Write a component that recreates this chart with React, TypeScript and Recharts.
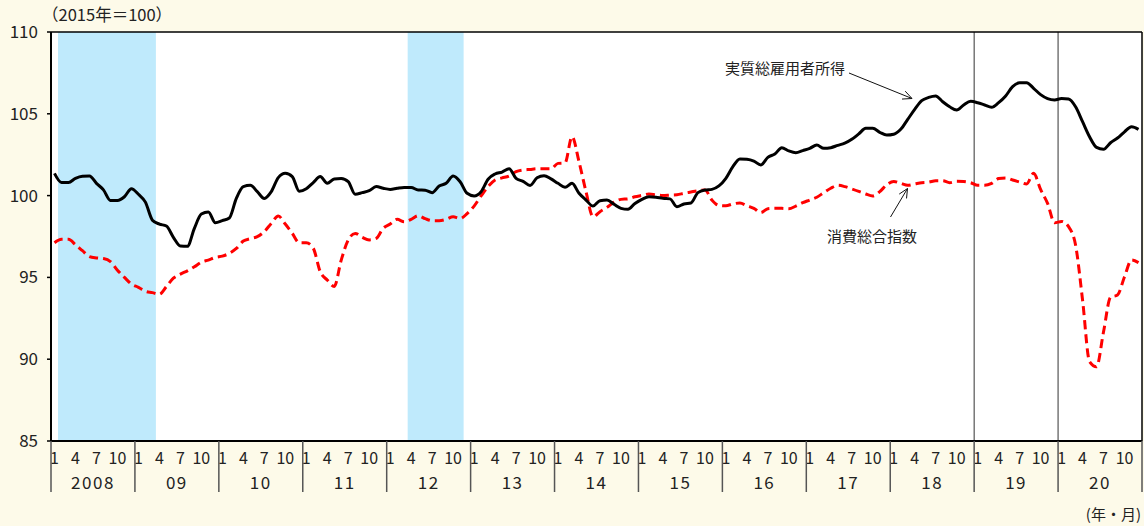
import React from 'react';
import { LineChart, Line, XAxis, YAxis, CartesianGrid, ReferenceArea, ReferenceLine } from 'recharts';

const FONT = '"Noto Sans CJK JP", "Noto Sans", sans-serif';

const YEARS = [2008, 2009, 2010, 2011, 2012, 2013, 2014, 2015, 2016, 2017, 2018, 2019, 2020];
const MONTHS = YEARS.flatMap((y) => Array.from({ length: 12 }, (_, k) => `${y}-${String(k + 1).padStart(2, '0')}`));

// 実質総雇用者所得
const INCOME = [
  101.36, 100.8, 100.8, 101.05, 101.18, 101.2, 100.75, 100.35, 99.7, 99.7, 99.93, 100.42,
  100.08, 99.6, 98.5, 98.26, 98.14, 97.45, 96.92, 96.9, 98.0, 98.87, 99.0, 98.34,
  98.47, 98.63, 99.83, 100.55, 100.63, 100.24, 99.83, 100.24, 101.1, 101.36, 101.16, 100.26,
  100.42, 100.8, 101.16, 100.75, 101.02, 101.05, 100.85, 100.08, 100.18, 100.3, 100.55, 100.45,
  100.38, 100.45, 100.5, 100.5, 100.34, 100.33, 100.18, 100.59, 100.75, 101.2, 100.85, 100.14,
  99.98, 100.24, 101.0, 101.32, 101.44, 101.64, 101.05, 100.87, 100.62, 101.09, 101.22, 101.02,
  100.75, 100.51, 100.75, 100.14, 99.73, 99.36, 99.69, 99.73, 99.47, 99.22, 99.16, 99.52,
  99.77, 99.93, 99.9, 99.83, 99.8, 99.32, 99.49, 99.55, 100.18, 100.34, 100.38, 100.59,
  101.06, 101.77, 102.24, 102.22, 102.11, 101.87, 102.34, 102.54, 102.93, 102.73, 102.62, 102.75,
  102.89, 103.09, 102.89, 102.93, 103.07, 103.2, 103.44, 103.77, 104.11, 104.11, 103.87, 103.7,
  103.75, 104.05, 104.66, 105.27, 105.8, 106.0, 106.09, 105.74, 105.43, 105.23, 105.54, 105.76,
  105.68, 105.54, 105.4, 105.68, 106.09, 106.66, 106.9, 106.9, 106.56, 106.17, 105.93, 105.85,
  105.93, 105.9, 105.43, 104.52, 103.6, 102.95, 102.83, 103.23, 103.52, 103.9, 104.21, 104.05,
];

// 消費総合指数
const CONSUMPTION = [
  97.12, 97.33, 97.33, 97.0, 96.63, 96.27, 96.19, 96.15, 95.97, 95.44, 95.0, 94.59,
  94.39, 94.15, 94.07, 93.97, 94.44, 94.95, 95.2, 95.4, 95.65, 95.93, 96.06, 96.22,
  96.3, 96.47, 96.77, 97.22, 97.37, 97.49, 97.8, 98.3, 98.75, 98.26, 97.69, 97.12,
  97.12, 96.78, 95.35, 94.84, 94.45, 96.06, 97.29, 97.69, 97.45, 97.29, 97.38, 98.0,
  98.26, 98.55, 98.4, 98.55, 98.77, 98.59, 98.47, 98.47, 98.55, 98.7, 98.6, 98.9,
  99.36, 99.98, 100.55, 100.95, 101.08, 101.2, 101.46, 101.56, 101.6, 101.64, 101.64, 101.64,
  101.97, 102.0, 103.6, 102.07, 100.24, 98.71, 99.02, 99.28, 99.6, 99.77, 99.8, 99.93,
  100.01, 100.1, 100.05, 100.01, 100.03, 100.05, 100.14, 100.22, 100.3, 100.34, 99.73, 99.4,
  99.38, 99.49, 99.55, 99.38, 99.22, 98.96, 99.2, 99.22, 99.22, 99.2, 99.36, 99.57,
  99.73, 99.9, 100.18, 100.45, 100.63, 100.55, 100.41, 100.26, 100.1, 99.98, 100.24, 100.66,
  100.86, 100.75, 100.63, 100.71, 100.79, 100.82, 100.91, 100.91, 100.79, 100.87, 100.86, 100.79,
  100.63, 100.63, 100.75, 101.04, 101.08, 100.95, 100.83, 100.71, 101.36, 100.38, 99.52, 98.34,
  98.42, 98.1, 96.98, 93.62, 89.85, 89.54, 91.68, 93.78, 93.92, 95.04, 96.06, 95.9,
];

const Y_TICKS = [85, 90, 95, 100, 105, 110];
const MONTH_LABELS = [1, 4, 7, 10];
// 景気後退期
const RECESSIONS = [
  ['2008-02', '2009-03'],
  ['2012-04', '2012-11'],
];
const DIVIDERS = ['2019-01', '2020-01'];

const data = MONTHS.map((m, i) => ({ i, m, income: INCOME[i], consumption: CONSUMPTION[i] }));
const X_TICKS = MONTHS.map((_, i) => i);
const N = MONTHS.length;

const W = 1144;
const H = 526;
const Y_AXIS_W = 51;
const MARGIN = { top: 32, right: 2, left: 0, bottom: 25 };
const PLOT_W = W - Y_AXIS_W - MARGIN.left - MARGIN.right;
const STEP = PLOT_W / N;

function MonthTick(props: any) {
  const { x, y, payload } = props;
  const idx = Number(payload.value);
  const [yy, mm] = MONTHS[idx].split('-').map(Number);
  const left = x - STEP / 2;
  const yearLabel = yy === YEARS[0] ? String(yy) : String(yy % 100).padStart(2, '0');
  return (
    <g fontFamily={FONT} fill="#222">
      {MONTH_LABELS.includes(mm) && (
        <text x={x} y={y + 23} textAnchor="middle" fontSize={16}>{mm}</text>
      )}
      {mm === 1 && <line x1={left} x2={left} y1={y} y2={y + 51} stroke="#555" strokeWidth={1.5} />}
      {mm === 1 && (
        <text x={left + STEP * 6} y={y + 48} textAnchor="middle" fontSize={17} letterSpacing={1.5}>{yearLabel}</text>
      )}
      {idx === N - 1 && (
        <line x1={x + STEP / 2} x2={x + STEP / 2} y1={y} y2={y + 51} stroke="#555" strokeWidth={1.5} />
      )}
    </g>
  );
}

function arrow(x1: number, y1: number, x2: number, y2: number) {
  const a = Math.atan2(y2 - y1, x2 - x1) + Math.PI;
  const len = 10;
  const s = 0.44;
  const p1 = [x2 + len * Math.cos(a - s), y2 + len * Math.sin(a - s)];
  const p2 = [x2 + len * Math.cos(a + s), y2 + len * Math.sin(a + s)];
  return (
    <g stroke="#111" strokeWidth={1} fill="none">
      <line x1={x1} y1={y1} x2={x2} y2={y2} />
      <polyline points={`${p1[0]},${p1[1]} ${x2},${y2} ${p2[0]},${p2[1]}`} />
    </g>
  );
}

export default function App() {
  return (
    <div style={{ position: 'absolute', left: 0, top: 0, width: W, height: H, background: '#fdfae9', fontFamily: FONT }}>
      <LineChart width={W} height={H} data={data} margin={MARGIN}>
        <CartesianGrid fill="#ffffff" horizontal={false} vertical={false} />
        {RECESSIONS.map(([a, b]) => (
          <ReferenceArea
            key={a}
            x1={MONTHS.indexOf(a) - 0.5}
            x2={MONTHS.indexOf(b) + 0.5}
            fill="#bfeafc"
            fillOpacity={1}
            stroke="none"
          />
        ))}
        {DIVIDERS.map((d) => (
          <ReferenceLine key={d} x={MONTHS.indexOf(d) - 0.5} stroke="#333" strokeWidth={1} />
        ))}
        <ReferenceLine x={N - 0.5} stroke="#000" strokeWidth={1.5} />
        <ReferenceLine y={110} stroke="#000" strokeWidth={1.5} />
        <XAxis
          dataKey="i"
          type="number"
          domain={[-0.5, N - 0.5]}
          ticks={X_TICKS}
          interval={0}
          height={60}
          tickSize={0}
          tickMargin={0}
          tickLine={false}
          axisLine={{ stroke: '#000', strokeWidth: 2 }}
          tick={<MonthTick />}
        />
        <YAxis
          domain={[85, 110]}
          ticks={Y_TICKS}
          width={Y_AXIS_W}
          tickSize={4}
          tickMargin={9}
          axisLine={{ stroke: '#000', strokeWidth: 2 }}
          tickLine={{ stroke: '#000', strokeWidth: 1.5 }}
          tick={{ fontSize: 17, fill: '#222', fontFamily: FONT }}
        />
        <Line
          type="monotone"
          dataKey="consumption"
          stroke="#ff0000"
          strokeWidth={3}
          strokeDasharray="9 5"
          dot={false}
          isAnimationActive={false}
        />
        <Line
          type="monotone"
          dataKey="income"
          stroke="#000000"
          strokeWidth={3}
          dot={false}
          isAnimationActive={false}
        />
      </LineChart>
      <svg width={W} height={H} style={{ position: 'absolute', left: 0, top: 0, pointerEvents: 'none' }} fontFamily={FONT}>
        <text x={42} y={21} fontSize={16.5} fill="#222">（2015年＝100）</text>
        <text x={1141} y={520} fontSize={15} fill="#222" textAnchor="end">(年・月)</text>
        <text x={725} y={74} fontSize={15} fill="#222">実質総雇用者所得</text>
        {arrow(849, 73, 912, 98.5)}
        <text x={827} y={242} fontSize={15} fill="#222">消費総合指数</text>
        {arrow(890.5, 217, 907.5, 188.5)}
      </svg>
    </div>
  );
}
